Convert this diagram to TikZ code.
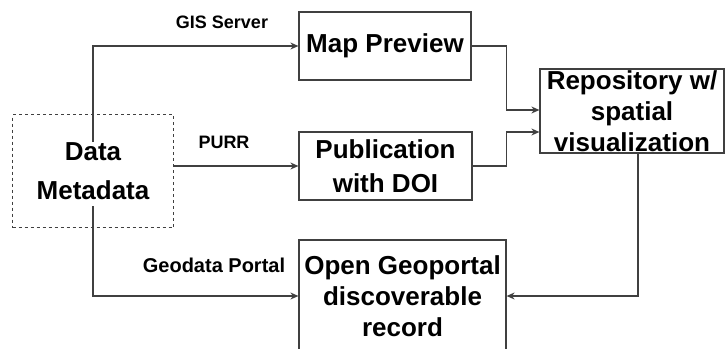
\documentclass[tikz,border=0pt]{standalone}
\usepackage{fontspec}
\setmainfont{Liberation Sans}
\usetikzlibrary{arrows.meta}
\begin{document}
\begin{tikzpicture}[x=1pt,y=-1pt,
  box/.style={draw=black!75,line width=1.2pt,inner sep=0pt,align=center,
    font=\fontsize{26}{31}\selectfont\bfseries},
  lbl/.style={inner sep=0pt,font=\fontsize{18}{21}\selectfont\bfseries},
  arr/.style={draw=black!75,line width=1.2pt,-{Stealth[length=8pt,width=7pt]}}]
\clip (0,0) rectangle (725,348);
\useasboundingbox (0,0) rectangle (725,348);
\node[box,dashed,minimum width=161pt,minimum height=113pt,
  font=\fontsize{26}{39}\selectfont\bfseries] (data) at (93,171) {Data\\Metadata};
\node[box,minimum width=172pt,minimum height=68pt] (map) at (385,46) {Map Preview};
\node[box,minimum width=173pt,minimum height=68pt,
  font=\fontsize{26}{34}\selectfont\bfseries] (pub) at (385.5,166) {Publication\\with DOI};
\node[box,minimum width=184pt,minimum height=84pt] (repo) at (632,111) {Repository w/\\spatial\\visualization};
\node[box,minimum width=207pt,minimum height=112pt] (geo) at (402.5,296) {Open Geoportal\\discoverable\\record};
\coordinate (gisstart) at (93,142);
\coordinate (geostart) at (93,206);
\draw[arr] (gisstart) |- (map.west);
\draw[arr] (data.east |- pub.west) -- (pub.west);
\draw[arr] (geostart) |- (geo.west);
\draw[arr] (map.east) -- ++(35,0) |- ([yshift=1pt]repo.west);
\draw[arr] (pub.east) -- ++(34,0) |- ([yshift=-21pt]repo.west);
\draw[arr] ([xshift=6pt]repo.south) |- (geo.east);
\node[lbl] (lgis) at (222,22) {GIS Server};
\node[lbl] (lpurr) at (224,142) {PURR};
\node[lbl,font=\fontsize{20}{24}\selectfont\bfseries] (lgeo) at (214,265) {Geodata Portal};
\end{tikzpicture}
\end{document}
